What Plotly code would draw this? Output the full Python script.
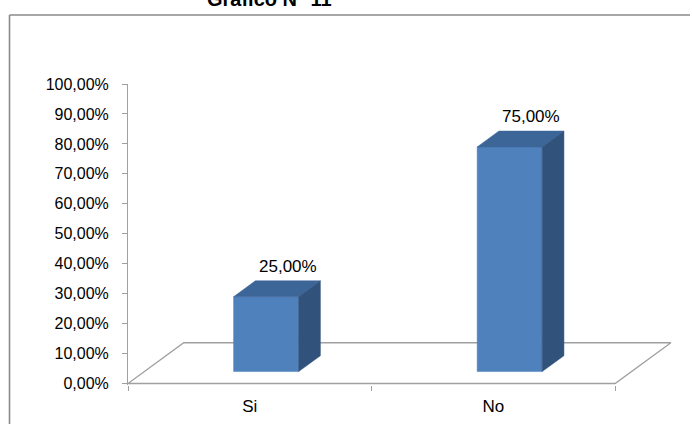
import plotly.graph_objects as go

# ---- data ----
categories = ["Si", "No"]
values = [25.0, 75.0]
y_ticks = [0, 10, 20, 30, 40, 50, 60, 70, 80, 90, 100]
y_tick_labels = [f"{t:.2f}%".replace(".", ",") for t in y_ticks]
title_text = "Gráfico N° 11"

# ---- 3D projection style constants (category / percent units) ----
FLOOR_DX = 0.229
FLOOR_DY = 13.6
BAR_W = 0.267
BAR_OFF = 0.293
BAR_DEPTH = 0.39

FRONT = "#4F81BD"
TOP = "#3D6698"
SIDE = "#31527B"
GRID = "#A0A0A0"
FONT = "Liberation Sans, Arial, sans-serif"

fig = go.Figure()

# floor parallelogram
n = len(categories)
fx = [-0.5, -0.5 + FLOOR_DX, n - 0.5 + FLOOR_DX, n - 0.5, -0.5]
fy = [0, FLOOR_DY, FLOOR_DY, 0, 0]
fig.add_trace(go.Scatter(x=fx, y=fy, mode="lines", line=dict(color=GRID, width=1.3),
                         hoverinfo="skip", showlegend=False))

ox, oy = BAR_OFF * FLOOR_DX, BAR_OFF * FLOOR_DY
ddx, ddy = BAR_DEPTH * FLOOR_DX, BAR_DEPTH * FLOOR_DY

def poly(xs, ys, color):
    fig.add_trace(go.Scatter(x=xs + [xs[0]], y=ys + [ys[0]], mode="lines", fill="toself",
                             fillcolor=color, line=dict(color=color, width=0.5),
                             hoverinfo="skip", showlegend=False))

for i, v in enumerate(values):
    x0, x1 = i - BAR_W / 2 + ox, i + BAR_W / 2 + ox
    b, t = oy, v + oy
    poly([x0, x1, x1, x0], [b, b, t, t], FRONT)
    poly([x0, x1, x1 + ddx, x0 + ddx], [t, t, t + ddy, t + ddy], TOP)
    poly([x1, x1 + ddx, x1 + ddx, x1], [b, b + ddy, t + ddy, t], SIDE)
    fig.add_annotation(x=i + ox + ddx, y=t + ddy, xref="x", yref="y",
                       text=f"{v:.2f}%".replace(".", ","), showarrow=False,
                       yanchor="bottom", yshift=3,
                       font=dict(family=FONT, size=17, color="#000000"))

# title (cut off at top, as in reference)
fig.add_annotation(x=(269 - 128) / 548, y=(385 - (-1)) / 301, xref="paper", yref="paper",
                   text=f"<b>{title_text}</b>", showarrow=False, xanchor="center", yanchor="middle",
                   font=dict(family=FONT, size=20, color="#000000"))

# outer frame: left and top edges, kept inside the page so nothing overflows
px = lambda p: (p - 128) / 548
py = lambda p: (385 - p) / 301
fig.add_shape(type="line", xref="paper", yref="paper", x0=px(9.5), x1=px(9.5),
              y0=py(15), y1=py(424), line=dict(color="#8A8A8A", width=1.6), layer="below")
fig.add_shape(type="line", xref="paper", yref="paper", x0=px(9.5), x1=px(690),
              y0=py(15), y1=py(15), line=dict(color="#8A8A8A", width=1.6), layer="below")

fig.update_layout(
    width=692, height=426,
    margin=dict(l=128, r=16, t=84, b=41, autoexpand=False),
    paper_bgcolor="white", plot_bgcolor="white",
    font=dict(family=FONT, color="#000000"),
    xaxis=dict(range=[-0.5, n - 0.25], tickmode="array", tickvals=list(range(n)),
               ticktext=categories, ticks="", showline=False, showgrid=False, zeroline=False,
               tickfont=dict(size=17), ticklabelstandoff=9,
               minor=dict(tickmode="array", tickvals=[k - 0.5 for k in range(n + 1)],
                          ticks="outside", ticklen=5, tickcolor=GRID, showgrid=False)),
    yaxis=dict(range=[-0.5, 100], tickmode="array", tickvals=y_ticks, ticktext=y_tick_labels,
               ticks="outside", ticklen=5, tickcolor=GRID,
               showline=True, linecolor=GRID, linewidth=1, showgrid=False, zeroline=False,
               tickfont=dict(size=16), ticklabelstandoff=10),
)

fig.write_html("out.html")
